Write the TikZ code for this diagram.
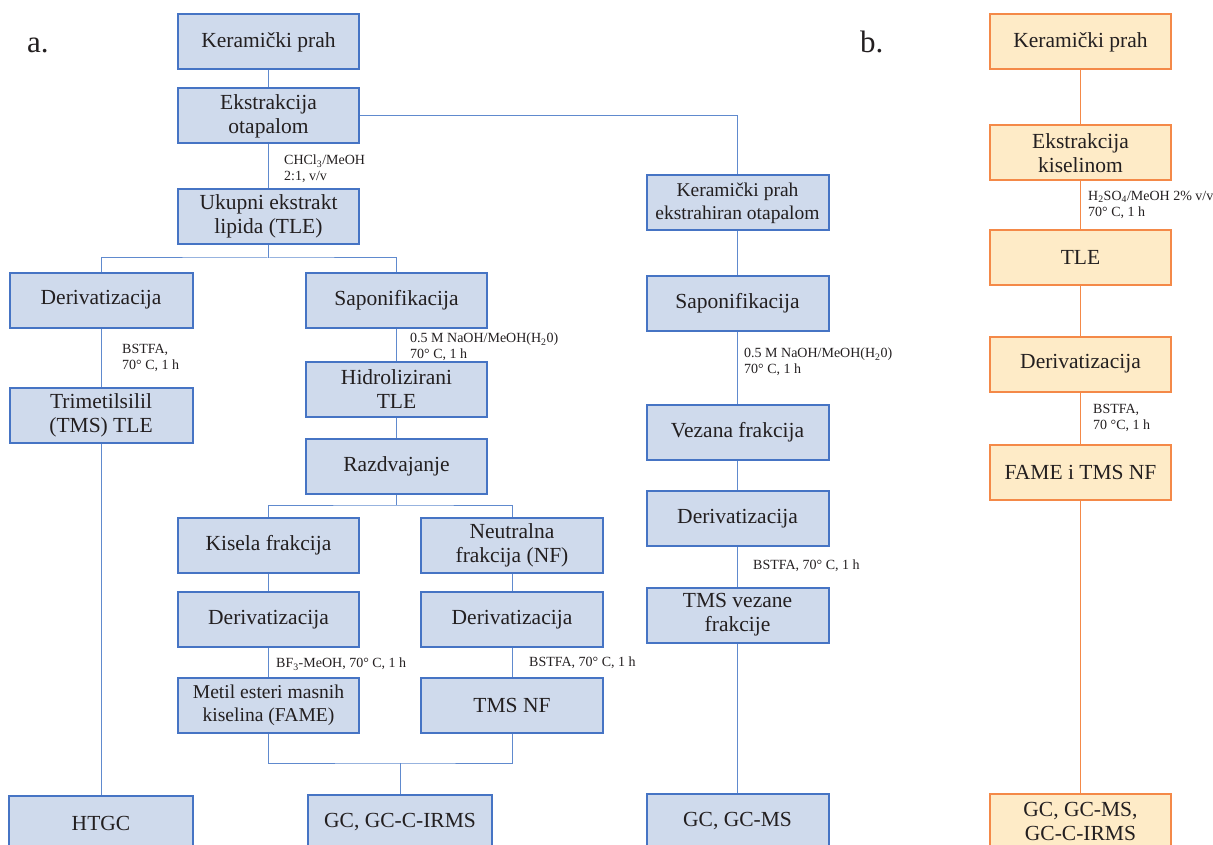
\documentclass[tikz,border=0pt]{standalone}
\usepackage{fontspec}
\setmainfont{Liberation Serif}
\definecolor{bfill}{RGB}{207,218,236}
\definecolor{bborder}{RGB}{70,116,196}
\definecolor{bline}{RGB}{96,138,206}
\definecolor{ofill}{RGB}{254,235,199}
\definecolor{oborder}{RGB}{244,137,72}
\definecolor{txt}{RGB}{35,31,32}
\begin{document}
\begin{tikzpicture}[x=1pt,y=-1pt,
  box/.style={draw=bborder, fill=bfill, line width=2pt, minimum width=181pt, minimum height=55pt,
    inner sep=0pt, align=center, font=\fontsize{21.5}{24}\selectfont, text=txt},
  obox/.style={box, draw=oborder, fill=ofill},
  conn/.style={draw=bline, line width=1pt},
  oconn/.style={draw=oborder, line width=1pt},
  lbl/.style={anchor=north west, inner sep=0pt, align=left, font=\fontsize{14}{16}\selectfont, text=txt},
  panel/.style={anchor=base west, inner sep=0pt, font=\fontsize{31}{34}\selectfont, text=txt}]
\useasboundingbox (0,0) rectangle (1213,845);
\clip (0,0) rectangle (1213,845);

% panel labels
\node[panel] (pa) at (27,53) {a.};
\node[panel] (pb) at (860,53) {b.};

% ---- a: top
\node[box] (kp) at (268.5,42) {Keramički prah};
\node[box] (ek) at (268.5,116) {Ekstrakcija\\otapalom};
\node[box] (tle) at (268.5,216.5) {Ukupni ekstrakt\\lipida (TLE)};

% left column
\node[box, minimum width=183pt] (der1) at (101,300) {Derivatizacija};
\node[box, minimum width=183pt] (tms) at (101,415) {Trimetilsilil\\(TMS) TLE};
\node[box, minimum width=184pt] (htgc) at (101,823.5) {HTGC};

% middle column
\node[box] (sap) at (396.5,300) {Saponifikacija};
\node[box] (hid) at (396.5,389.5) {Hidrolizirani\\TLE};
\node[box] (raz) at (396.5,466) {Razdvajanje};
\node[box] (kis) at (268.5,545.5) {Kisela frakcija};
\node[box, minimum width=182pt] (neu) at (512,545.5) {Neutralna\\frakcija (NF)};
\node[box] (dk) at (268.5,619.5) {Derivatizacija};
\node[box, minimum width=182pt] (dn) at (512,619.5) {Derivatizacija};
\node[box, font=\fontsize{19.6}{23}\selectfont] (met) at (268.5,705.5) {Metil esteri masnih\\kiselina (FAME)};
\node[box, minimum width=182pt] (tmsnf) at (512,705.5) {TMS NF};
\node[box, minimum width=184pt] (gc1) at (400,822.5) {GC, GC-C-IRMS};

% right column
\node[box, minimum width=182pt, font=\fontsize{19.5}{23}\selectfont] (kpe) at (737.5,203) {Keramički prah\\ekstrahiran otapalom};
\node[box, minimum width=182pt] (sap2) at (737.5,303.5) {Saponifikacija};
\node[box, minimum width=182pt] (vez) at (737.5,432.5) {Vezana frakcija};
\node[box, minimum width=182pt] (der2) at (737.5,518.5) {Derivatizacija};
\node[box, minimum width=182pt] (tmsv) at (737.5,615) {TMS vezane\\frakcije};
\node[box, minimum width=182pt] (gc2) at (737.5,821.5) {GC, GC-MS};

% ---- b column
\node[obox] (bkp) at (1080.5,42) {Keramički prah};
\node[obox] (bek) at (1080.5,153) {Ekstrakcija\\kiselinom};
\node[obox] (btle) at (1080.5,257.5) {TLE};
\node[obox] (bder) at (1080.5,364) {Derivatizacija};
\node[obox] (bfame) at (1080.5,472) {FAME i TMS NF};
\node[obox] (bgc) at (1080.5,821.5) {GC, GC-MS,\\GC-C-IRMS};

% coordinates for splits / joins
\coordinate (s1) at (268.5,258);
\coordinate (s2) at (396.5,505);
\coordinate (j1) at (400,763);

% ---- a connectors
\draw[conn] (kp) -- (ek);
\draw[conn] (ek.east) -| (kpe.north);
\draw[conn] (ek) -- (tle);
\draw[conn] (tle.south) -- (s1);
\draw[conn] (der1.north) |- (s1) -| (sap.north);
\draw[conn] (der1) -- (tms);
\draw[conn] (tms) -- (htgc);
\draw[conn] (sap) -- (hid);
\draw[conn] (hid) -- (raz);
\draw[conn] (raz.south) -- (s2);
\draw[conn] (kis.north) |- (s2) -| (neu.north);
\draw[conn] (kis) -- (dk);
\draw[conn] (dk) -- (met);
\draw[conn] (neu) -- (dn);
\draw[conn] (dn) -- (tmsnf);
\draw[conn] (met.south) |- (j1) -| (tmsnf.south);
\draw[conn] (j1) -- (gc1.north);
\draw[conn] (kpe) -- (sap2);
\draw[conn] (sap2) -- (vez);
\draw[conn] (vez) -- (der2);
\draw[conn] (der2) -- (tmsv);
\draw[conn] (tmsv) -- (gc2);

% ---- b connectors
\draw[oconn] (bkp) -- (bek);
\draw[oconn] (bek) -- (btle);
\draw[oconn] (btle) -- (bder);
\draw[oconn] (bder) -- (bfame);
\draw[oconn] (bfame) -- (bgc);

% ---- labels
\node[lbl] (l1) at (284,155) {CHCl\textsubscript{3}/MeOH\\2:1, v/v};
\node[lbl] (l2) at (122,344) {BSTFA,\\70° C, 1 h};
\node[lbl] (l3) at (410,333) {0.5 M NaOH/MeOH(H\textsubscript{2}0)\\70° C, 1 h};
\node[lbl] (l4) at (744,348) {0.5 M NaOH/MeOH(H\textsubscript{2}0)\\70° C, 1 h};
\node[lbl] (l5) at (753,560) {BSTFA, 70° C, 1 h};
\node[lbl] (l6) at (276,658) {BF\textsubscript{3}-MeOH, 70° C, 1 h};
\node[lbl] (l7) at (529,657) {BSTFA, 70° C, 1 h};
\node[lbl] (l8) at (1088,191) {H\textsubscript{2}SO\textsubscript{4}/MeOH 2\% v/v\\70° C, 1 h};
\node[lbl] (l9) at (1093,404) {BSTFA,\\70 °C, 1 h};
\end{tikzpicture}
\end{document}
